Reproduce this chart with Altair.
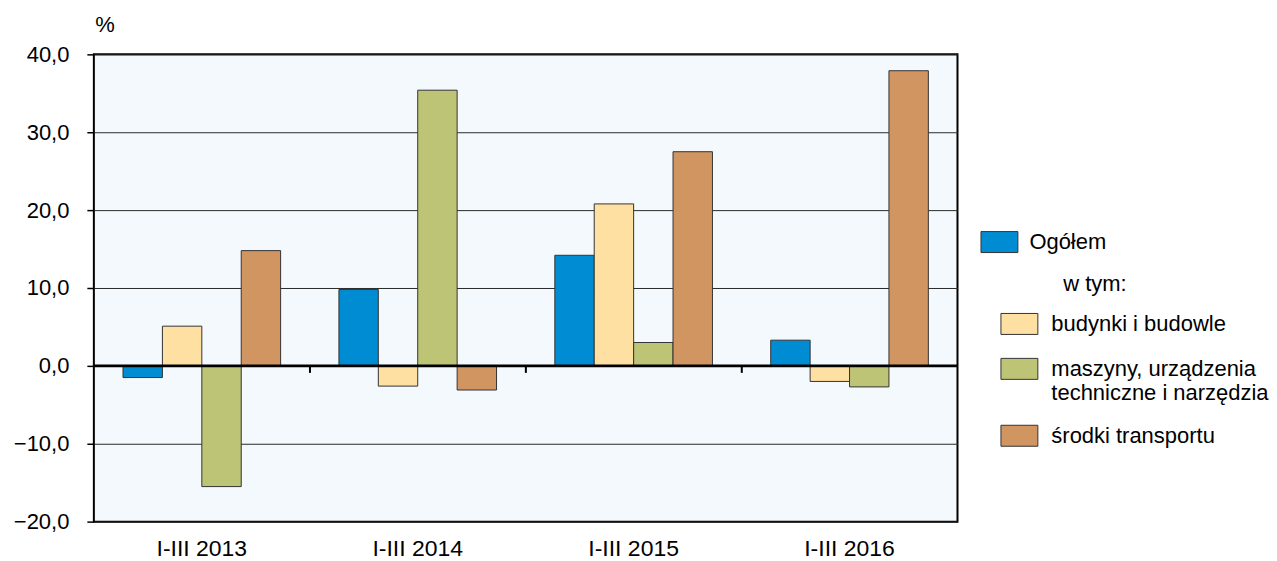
import altair as alt
import pandas as pd

periods = ["I-III 2013", "I-III 2014", "I-III 2015", "I-III 2016"]
series = [
    "Ogółem",
    "budynki i budowle",
    "maszyny, urządzenia techniczne i narzędzia",
    "środki transportu",
]
ogolem = [-1.5, 9.8, 14.2, 3.3]
budynki = [5.1, -2.6, 20.8, -2.0]
maszyny = [-15.5, 35.4, 3.0, -2.7]
transport = [14.8, -3.1, 27.5, 37.9]
colors = ["#008CD2", "#FFE0A3", "#BEC476", "#D09560"]
y_ticks = [-20, -10, 0, 10, 20, 30, 40]

FONT = "Liberation Sans"
FS = 22
FS_X = 23
FS_L = 22

rows = []
for s, vals in zip(series, [ogolem, budynki, maszyny, transport]):
    for p, v in zip(periods, vals):
        rows.append({"okres": p, "seria": s, "wartosc": v})
df = pd.DataFrame(rows)
df_ticks = pd.DataFrame({"okres": periods[1:]})
df_zero = pd.DataFrame({"v": [0]})

x_scale = alt.Scale(domain=periods, paddingInner=0.27, paddingOuter=0.135)
y_scale = alt.Scale(domain=[-20, 40], nice=False, zero=False)
xoff = alt.XOffset("seria:N", sort=series,
                   scale=alt.Scale(domain=series, paddingInner=0, paddingOuter=0))

x_axis = alt.Axis(title=None, ticks=False, domain=False, grid=False,
                  labelFontSize=FS_X, labelFont=FONT, labelColor="black",
                  labelPadding=16, labelAngle=0)
y_axis = alt.Axis(values=y_ticks,
                  labelExpr="replace(format(datum.value, '.1f'), '.', ',')",
                  labelFontSize=FS, labelFont=FONT, labelColor="black",
                  labelPadding=18, tickSize=7, tickColor="black", tickWidth=1.5,
                  domain=False, grid=True, gridColor="#2a2a2a", gridWidth=1,
                  title="%", titleAngle=0, titleX=1, titleY=-23,
                  titleAlign="left", titleBaseline="alphabetic",
                  titleFontSize=FS, titleFont=FONT, titleFontWeight="normal",
                  titleColor="black")

x_main = alt.X("okres:N", sort=periods, scale=x_scale, axis=x_axis)
y_main = alt.Y("wartosc:Q", scale=y_scale, axis=y_axis)

sym_path = "M-1.76,-1H1.76V1H-1.76Z"
legend_common = dict(orient="none", symbolType=sym_path, symbolSize=441,
                     symbolStrokeColor="#333333", symbolStrokeWidth=1,
                     labelFontSize=FS_L, labelFont=FONT, labelColor="black",
                     labelLimit=500, padding=0)

bar_a = alt.Chart(df).transform_filter(
    alt.datum.seria == series[0]
).mark_bar(stroke="#333333", strokeWidth=1).encode(
    x=x_main,
    y=y_main,
    xOffset=xoff,
    color=alt.Color("seria:N", scale=alt.Scale(domain=[series[0]], range=[colors[0]]),
                    legend=alt.Legend(title=None, legendX=896, legendY=177,
                                      labelOffset=19, **legend_common)),
)

bar_b = alt.Chart(df).transform_filter(
    alt.datum.seria != series[0]
).mark_bar(stroke="#333333", strokeWidth=1).encode(
    x=x_main,
    y=y_main,
    xOffset=xoff,
    color=alt.Color("seria:N", scale=alt.Scale(domain=series[1:], range=colors[1:]),
                    legend=alt.Legend(title="\u200b" + "\u00a0" * 9 + "w tym:",
                                      legendX=916, legendY=220,
                                      labelOffset=21, titleFontSize=FS_L, titleFont=FONT,
                                      titleFontWeight="normal", titleColor="black",
                                      titlePadding=17, rowPadding=19,
                                      labelExpr="datum.label == 'maszyny, urządzenia techniczne i narzędzia' ? ['maszyny, urządzenia', 'techniczne i narzędzia'] : datum.label",
                                      **legend_common)),
)

zero_line = alt.Chart(df_zero).mark_rule(color="black", strokeWidth=3).encode(
    y=alt.Y("v:Q", scale=y_scale, axis=y_axis),
)

sep_ticks = alt.Chart(df_ticks).mark_rule(color="black", strokeWidth=2).encode(
    x=x_main,
    xOffset=alt.value(-29),
    y=alt.datum(0),
    y2=alt.datum(-0.9),
)

chart = alt.layer(bar_a, bar_b, zero_line, sep_ticks).resolve_scale(
    color="independent"
).properties(
    width=865, height=468,
    padding={"left": 5, "top": 5, "right": 0, "bottom": 5},
).configure(background="white").configure_view(
    stroke="black", strokeWidth=2, fill="#F3F9FC"
)

chart.save("out.html", embed_options={"renderer": "svg", "actions": False})
